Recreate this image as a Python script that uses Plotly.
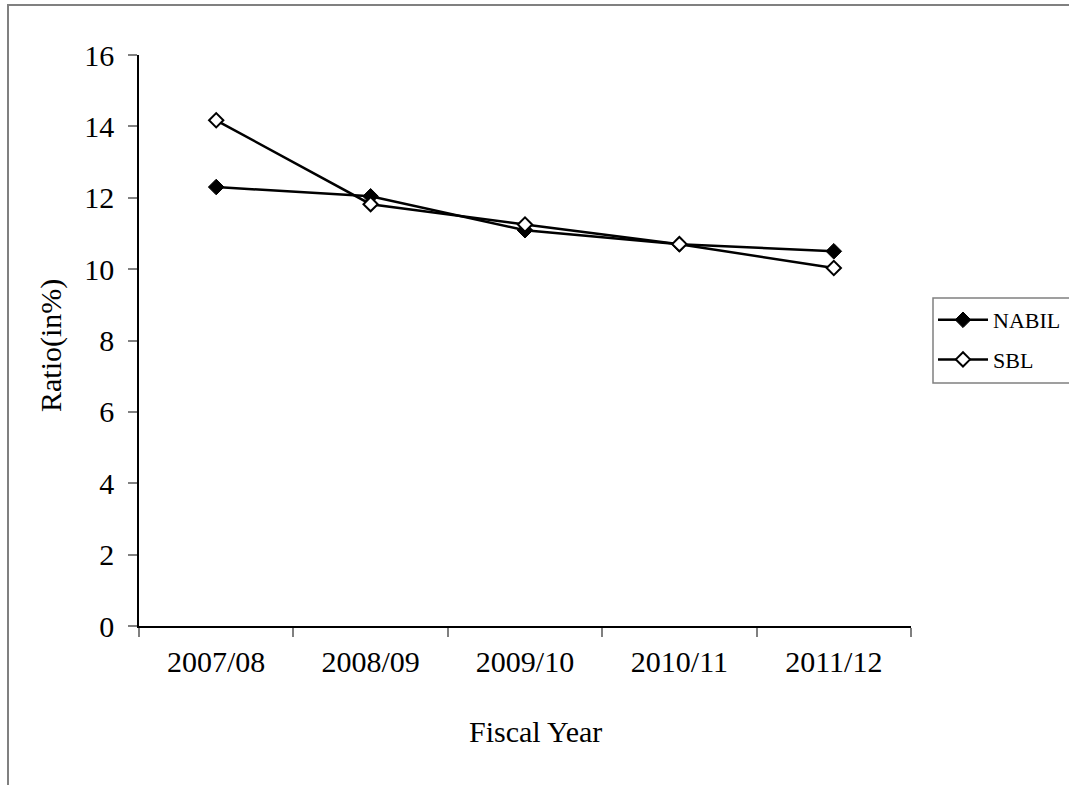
import plotly.graph_objects as go

# Fiscal years and ratio (%) for the two banks
years = ["2007/08", "2008/09", "2009/10", "2010/11", "2011/12"]
nabil = [12.3, 12.04, 11.09, 10.70, 10.50]
sbl = [14.17, 11.82, 11.25, 10.70, 10.03]
y_ticks = [0, 2, 4, 6, 8, 10, 12, 14, 16]

FONT = "Liberation Serif, Times New Roman, serif"

fig = go.Figure()
fig.add_trace(go.Scatter(
    x=years, y=nabil, name="NABIL", mode="lines+markers",
    line=dict(color="black", width=2.5),
    marker=dict(symbol="diamond", size=12, color="black",
                line=dict(color="black", width=1)),
    legendgroup="a",
))
fig.add_trace(go.Scatter(
    x=years, y=sbl, name="SBL", mode="lines+markers",
    line=dict(color="black", width=2.5),
    marker=dict(symbol="diamond", size=11, color="white",
                line=dict(color="black", width=2)),
    legendgroup="b",
))

W, H = 1069, 785
L, R, T, B = 139, 158, 55, 159
pw, ph = W - L - R, H - T - B


def px_x(x):
    return (x - L) / pw


def px_y(y):
    return (H - B - y) / ph


fig.update_layout(
    width=W, height=H,
    margin=dict(l=L, r=R, t=T, b=B, autoexpand=False),
    paper_bgcolor="white", plot_bgcolor="white",
    font=dict(family=FONT, color="black", size=30),
    showlegend=True,
    legend=dict(
        x=px_x(933), y=px_y(299), xanchor="left", yanchor="top",
        borderwidth=0, bgcolor="rgba(0,0,0,0)",
        font=dict(family=FONT, size=22, color="black"),
        tracegroupgap=8, traceorder="grouped",
        itemwidth=50,
    ),
    xaxis=dict(
        type="category", tickson="boundaries",
        showline=True, linecolor="black", linewidth=1.5,
        ticks="outside", ticklen=9, tickcolor="#808080", tickwidth=1.5,
        showgrid=False, zeroline=False,
        tickfont=dict(family=FONT, size=30),
        ticklabelstandoff=8,
        range=[-0.5, 4.5],
    ),
    yaxis=dict(
        range=[0, 16], tickvals=y_ticks,
        showline=True, linecolor="black", linewidth=1.5,
        ticks="outside", ticklen=9, tickcolor="#808080", tickwidth=1.5,
        showgrid=False, zeroline=False,
        tickfont=dict(family=FONT, size=30),
        ticklabelstandoff=8,
    ),
    annotations=[
        dict(text="Fiscal Year", xref="paper", yref="paper",
             x=px_x(535), y=px_y(731), xanchor="center", yanchor="middle",
             showarrow=False, font=dict(family=FONT, size=30)),
        dict(text="Ratio(in%)", xref="paper", yref="paper",
             x=px_x(51), y=px_y(346), xanchor="center", yanchor="middle",
             textangle=-90, showarrow=False, font=dict(family=FONT, size=30)),
    ],
    shapes=[
        # outer chart frame
        dict(type="rect", xref="paper", yref="paper",
             x0=px_x(8), x1=px_x(1080), y0=px_y(5), y1=px_y(800),
             line=dict(color="#808080", width=2), layer="below"),
        # legend frame
        dict(type="rect", xref="paper", yref="paper",
             x0=px_x(933), x1=px_x(1075), y0=px_y(298), y1=px_y(383),
             line=dict(color="#808080", width=1.5), layer="below"),
    ],
)

fig.write_html("out.html")
